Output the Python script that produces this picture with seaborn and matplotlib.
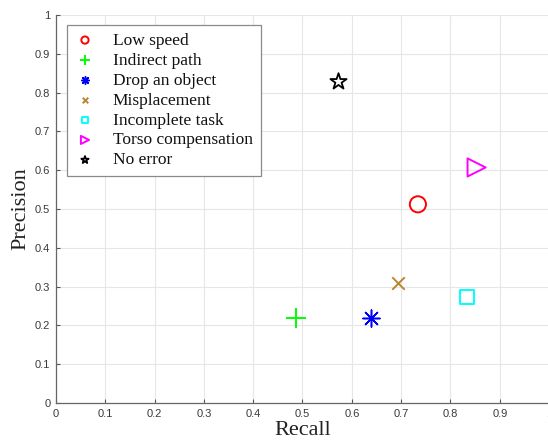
import matplotlib
matplotlib.use("Agg")
import matplotlib.pyplot as plt
import seaborn as sns

# error classes and their (recall, precision) values
categories = ["Low speed", "Indirect path", "Drop an object", "Misplacement",
              "Incomplete task", "Torso compensation", "No error"]
recall = [0.734, 0.487, 0.639, 0.693, 0.833, 0.853, 0.573]
precision = [0.512, 0.220, 0.218, 0.310, 0.273, 0.607, 0.828]

colors = ["#ff0000", "#00ff00", "#0000ff", "#b8862e", "#00ffff", "#ff00ff", "#000000"]
markers = ["o", "+", (8, 2, 0), "x", "s", ">", "*"]
sizes = [135, 210, 150, 80, 95, 170, 150]
widths = [1.4, 1.4, 1.1, 1.4, 1.4, 1.4, 1.3]
ticks = [0, 0.1, 0.2, 0.3, 0.4, 0.5, 0.6, 0.7, 0.8, 0.9, 1]
tick_labels = ["0", "0.1", "0.2", "0.3", "0.4", "0.5", "0.6", "0.7", "0.8", "0.9", "1"]

sns.set_theme(style="whitegrid")
fig = plt.figure(figsize=(5.48, 4.45), dpi=100)
ax = fig.add_axes([0.102, 0.0944, 0.900, 0.872])

for name, rx, py, c, m, s, lw in zip(categories, recall, precision, colors, markers, sizes, widths):
    filled = m in ("o", "s", ">", "*")
    if filled:
        sns.scatterplot(x=[rx], y=[py], marker=m, s=s, color=c, facecolors="none",
                        edgecolor=c, linewidth=lw, ax=ax, label=name, zorder=3)
    else:
        sns.scatterplot(x=[rx], y=[py], marker=m, s=s, color=c,
                        linewidth=lw, ax=ax, label=name, zorder=3)

ax.set_xlim(0, 1)
ax.set_ylim(0, 1)
ax.set_xticks(ticks)
ax.set_yticks(ticks)
ax.set_xticklabels(tick_labels, family="Liberation Sans", fontsize=8, color="#3a3a3a")
ax.set_yticklabels(tick_labels, family="Liberation Sans", fontsize=8, color="#3a3a3a")
ax.tick_params(direction="in", length=3, width=0.8, color="#555555", pad=4,
               bottom=True, left=True)

ax.set_facecolor("white")
ax.grid(True, color="#e6e6e6", linewidth=0.8)
for side in ["top", "right"]:
    ax.spines[side].set_visible(False)
for side in ["left", "bottom"]:
    ax.spines[side].set_color("#666666")
    ax.spines[side].set_linewidth(0.9)

ax.set_xlabel("Recall", family="Liberation Serif", fontsize=16, color="#222222", labelpad=2)
ax.set_ylabel("Precision", family="Liberation Serif", fontsize=16, color="#222222", labelpad=3)

leg = ax.legend(loc="upper left", bbox_to_anchor=(0.022, 0.975), markerscale=0.45,
                prop={"family": "Liberation Serif", "size": 12.5}, frameon=True,
                fancybox=False, edgecolor="#8a8a8a", framealpha=1,
                handlelength=1.2, handletextpad=1.0, labelspacing=0.22,
                borderpad=0.45, borderaxespad=0)
leg.get_frame().set_linewidth(0.9)
for t in leg.get_texts():
    t.set_color("#111111")

fig.savefig("out.png", dpi=100)
